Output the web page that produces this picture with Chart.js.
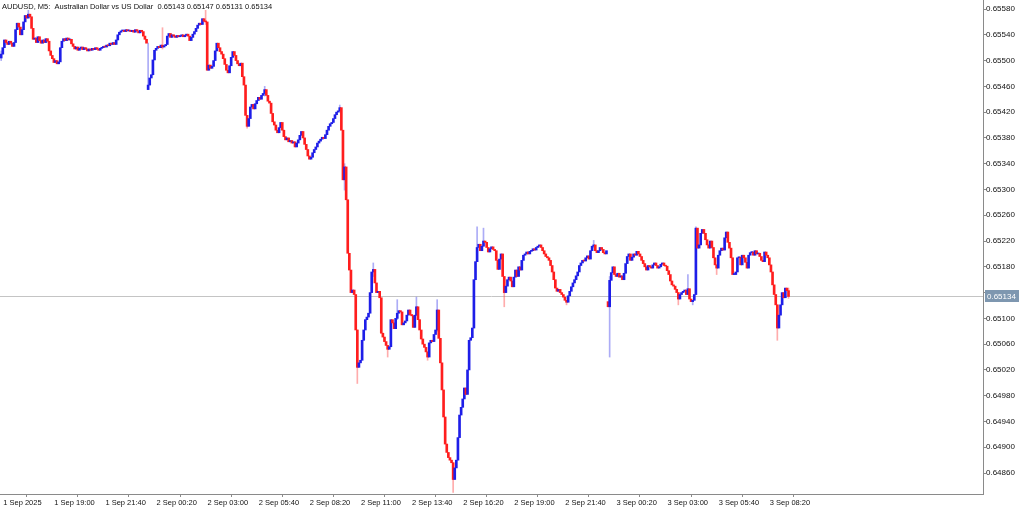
<!DOCTYPE html>
<html><head><meta charset="utf-8">
<script src="https://cdn.jsdelivr.net/npm/chart.js@4.4.1/dist/chart.umd.min.js"></script>
<style>html,body{margin:0;padding:0;background:#fff;overflow:hidden}#wrap{position:relative;width:1024px;height:511px}</style>
</head><body><div id="wrap"><canvas id="c" width="1024" height="511"></canvas></div>
<script>
// ---- data (prices in points, 1 point = 0.00001) ----
const chartTitle = 'AUDUSD, M5:  Australian Dollar vs US Dollar  0.65143 0.65147 0.65131 0.65134';
const timeLabels = ['1 Sep 2025','1 Sep 19:00','1 Sep 21:40','2 Sep 00:20','2 Sep 03:00','2 Sep 05:40','2 Sep 08:20','2 Sep 11:00','2 Sep 13:40','2 Sep 16:20','2 Sep 19:00','2 Sep 21:40','3 Sep 00:20','3 Sep 03:00','3 Sep 05:40','3 Sep 08:20'];
const barsPerLabel = 32;
const priceTicks = [64860,64900,64940,64980,65020,65060,65100,65140,65180,65220,65260,65300,65340,65380,65420,65460,65500,65540,65580];
const closes = [
65510,65520,65532,65528,65525,65530,65527,65522,65528,65548,
65558,65552,65540,65548,65560,65570,65566,65572,65568,65550,
65533,65535,65528,65537,65531,65527,65532,65528,65534,65530,
65515,65508,65503,65497,65500,65495,65498,65520,65530,65534,
65531,65535,65532,65533,65526,65522,65518,65521,65516,65519,
65521,65517,65520,65518,65515,65518,65516,65519,65517,65520,
65518,65516,65519,65520,65522,65521,65524,65523,65527,65525,
65528,65525,65532,65540,65544,65546,65547,65545,65548,65546,
65547,65545,65547,65544,65548,65546,65543,65547,65545,65538,
65533,65527,65462,65473,65478,65501,65516,65519,65522,65520,
65524,65521,65523,65525,65538,65542,65536,65540,65538,65536,
65539,65537,65538,65540,65537,65539,65541,65538,65531,65536,
65541,65545,65550,65555,65558,65556,65565,65561,65560,65485,
65493,65488,65491,65500,65515,65527,65520,65514,65510,65503,
65494,65485,65481,65492,65505,65514,65508,65500,65495,65492,
65496,65475,65462,65415,65398,65410,65428,65432,65425,65433,
65438,65443,65440,65446,65449,65455,65446,65437,65434,65418,
65405,65400,65392,65388,65396,65404,65392,65382,65377,65380,
65374,65376,65372,65374,65366,65372,65377,65384,65390,65380,
65370,65362,65352,65347,65350,65357,65362,65366,65372,65375,
65378,65381,65379,65385,65392,65398,65402,65404,65410,65416,
65420,65422,65427,65392,65315,65335,65284,65201,65175,65140,
65144,65137,65082,65024,65031,65035,65066,65082,65098,65102,
65108,65140,65172,65176,65155,65140,65142,65132,65077,65071,
65064,65058,65052,65056,65098,65093,65084,65100,65108,65112,
65110,65090,65093,65096,65105,65113,65106,65104,65086,65105,
65118,65098,65082,65068,65060,65055,65048,65040,65062,65066,
65064,65075,65082,65113,65069,65031,64989,64947,64905,64892,
64884,64880,64876,64850,64868,64880,64915,64950,64962,64975,
64992,64982,65020,65066,65070,65085,65160,65188,65210,65215,
65205,65212,65220,65218,65210,65203,65208,65211,65207,65205,
65190,65176,65192,65200,65165,65140,65150,65160,65164,65158,
65149,65164,65175,65165,65180,65175,65190,65198,65200,65203,
65200,65204,65205,65208,65206,65210,65212,65214,65210,65205,
65200,65196,65194,65190,65182,65172,65160,65147,65142,65145,
65140,65137,65133,65128,65125,65135,65142,65149,65155,65160,
65166,65172,65182,65186,65190,65189,65194,65197,65192,65205,
65212,65214,65205,65202,65205,65210,65207,65202,65200,65205,
65118,65159,65171,65180,65168,65165,65170,65164,65166,65160,
65170,65185,65196,65200,65190,65195,65200,65198,65204,65200,
65196,65190,65185,65180,65175,65182,65180,65178,65183,65186,
65182,65178,65180,65184,65186,65182,65181,65174,65168,65158,
65152,65150,65145,65140,65130,65137,65140,65142,65144,65137,
65146,65130,65126,65128,65137,65240,65209,65214,65232,65238,
65232,65222,65214,65209,65220,65210,65194,65183,65178,65198,
65205,65209,65206,65225,65234,65218,65209,65194,65168,65168,
65172,65194,65195,65183,65198,65194,65187,65178,65198,65202,
65203,65198,65205,65200,65201,65196,65190,65188,65203,65198,
65194,65183,65172,65152,65137,65121,65085,65105,65121,65140,
65132,65147,65143,65134];
// bars whose open is not the previous close: [bar, open]
const gapOpens = [[0,65504],[92,65455],[380,65126]];
// visible shadows: [bar, low, high]
const wicks = [[0,65500,65515],[17,65566,65578],[92,65455,65527],[101,65518,65551],[128,65556,65578],
[154,65395,65415],[165,65445,65460],[212,65420,65431],[215,65299,65340],[223,64999,65082],[233,65165,65186],
[242,65040,65058],[248,65098,65129],[260,65104,65133],[267,65035,65048],[273,65080,65129],[283,64830,64876],
[298,65188,65242],[302,65212,65240],[315,65118,65165],[354,65121,65128],[371,65210,65221],[381,65040,65165],
[424,65121,65140],[430,65137,65168],[433,65121,65128],[435,65137,65242],[448,65168,65183],[486,65066,65121],[493,65131,65147]];
const lastPrice = 65134;

// ---- build ----
const PT = 1e-5;
const BULL = 'rgb(30,30,232)', BEAR = 'rgb(255,30,30)';
const BULL_W = 'rgba(70,70,235,0.45)', BEAR_W = 'rgba(255,70,70,0.45)';
const opens = closes.map((c, i) => i === 0 ? c : closes[i - 1]);
gapOpens.forEach(([i, o]) => { opens[i] = o; });
const isBull = closes.map((c, i) => c >= opens[i]);
const bodyData = closes.map((c, i) => ({x: i, y: [opens[i] * PT, c * PT]}));
const wickData = wicks.map(([i, l, h]) => ({x: i, y: [l * PT, h * PT]}));

const FONT = 'Liberation Sans, Arial, sans-serif';
const overlay = {
  id: 'overlay',
  beforeDatasetsDraw(chart) {
    const {ctx, chartArea: a, scales: {y}} = chart;
    const py = Math.round(y.getPixelForValue(lastPrice * PT)) + 0.5;
    ctx.save();
    ctx.strokeStyle = '#c4c4c4'; ctx.lineWidth = 1;
    ctx.beginPath(); ctx.moveTo(a.left, py); ctx.lineTo(a.right, py); ctx.stroke();
    ctx.restore();
  },
  afterDraw(chart) {
    const {ctx, chartArea: a, scales: {y}} = chart;
    const py = Math.round(y.getPixelForValue(lastPrice * PT));
    ctx.save();
    ctx.fillStyle = '#7e97b0';
    ctx.fillRect(a.right + 2, py - 6, 34, 12);
    ctx.fillStyle = '#ffffff';
    ctx.font = '8px ' + FONT;
    ctx.textBaseline = 'middle'; ctx.textAlign = 'left';
    ctx.fillText((lastPrice * PT).toFixed(5), a.right + 4, py + 0.5);
    ctx.fillStyle = '#111';
    ctx.font = '7.5px ' + FONT;
    ctx.fillText(chartTitle, 2, 7);
    ctx.restore();
  }
};
const noPad = s => { s.paddingTop = 0; s.paddingBottom = 0; s.paddingLeft = 0; s.paddingRight = 0; };

new Chart(document.getElementById('c'), {
  type: 'bar',
  data: {
    datasets: [
      {data: bodyData, backgroundColor: isBull.map(b => b ? BULL : BEAR), barThickness: 2, minBarLength: 1, grouped: false, borderWidth: 0},
      {data: wickData, backgroundColor: wicks.map(([i]) => isBull[i] ? BULL_W : BEAR_W), barThickness: 1, grouped: false, borderWidth: 0}
    ]
  },
  options: {
    responsive: false, animation: false, devicePixelRatio: 1,
    layout: {padding: 0, autoPadding: false},
    plugins: {legend: {display: false}, tooltip: {enabled: false}, title: {display: false}},
    scales: {
      x: {
        type: 'linear', min: -0.751, max: 614.78, offset: false,
        grid: {display: true, drawOnChartArea: false, drawTicks: true, tickLength: 3, color: '#8a8a8a'},
        border: {display: true, color: '#8a8a8a'},
        afterBuildTicks: s => { s.ticks = timeLabels.map((_, k) => ({value: k * barsPerLabel})); },
        afterFit: s => { s.height = 17; noPad(s); },
        ticks: {autoSkip: false, maxRotation: 0, minRotation: 0, align: 'start', labelOffset: 2, padding: 1,
          color: '#111', font: {family: FONT, size: 7.5},
          callback: v => timeLabels[Math.round(v / barsPerLabel)]}
      },
      y: {
        type: 'linear', position: 'right', min: 0.648275, max: 0.655940,
        grid: {display: true, drawOnChartArea: false, drawTicks: true, tickLength: 3, color: '#8a8a8a'},
        border: {display: true, color: '#8a8a8a'},
        afterBuildTicks: s => { s.ticks = priceTicks.map(p => ({value: p * PT})); },
        afterFit: s => { s.width = 41; noPad(s); },
        ticks: {autoSkip: false, padding: 0, color: '#111', font: {family: FONT, size: 8},
          callback: v => v.toFixed(5)}
      }
    }
  },
  plugins: [overlay]
});
</script></body></html>
